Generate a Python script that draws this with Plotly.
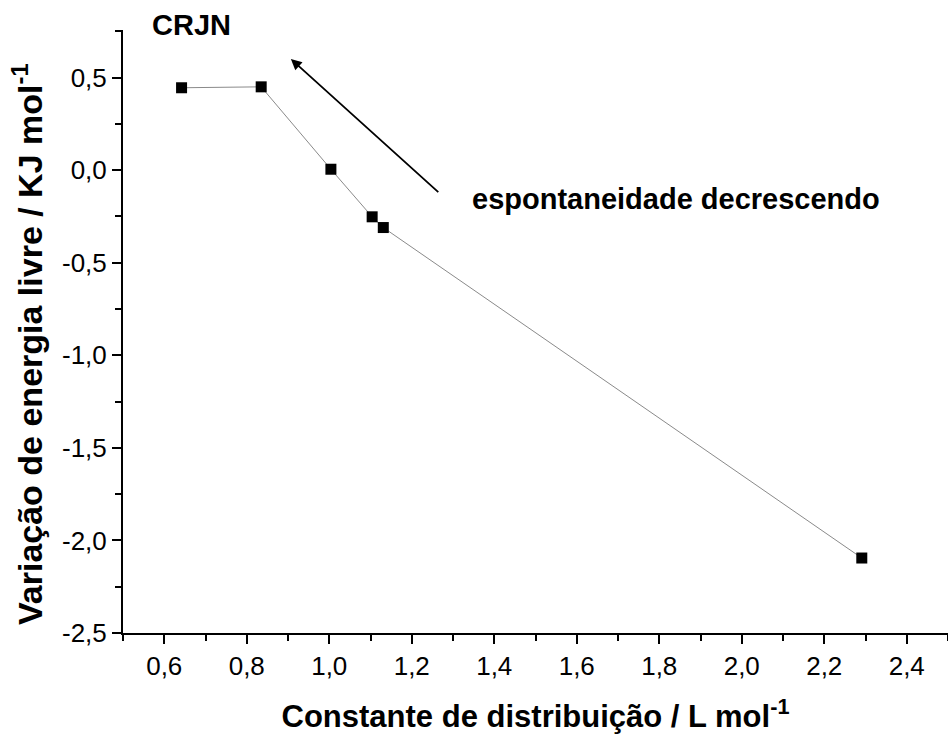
import plotly.graph_objects as go

# Distribution constant (L/mol) and free-energy change (kJ/mol)
k_dist = [0.642, 0.835, 1.004, 1.104, 1.131, 2.291]
delta_g = [0.445, 0.450, 0.005, -0.252, -0.310, -2.095]

# Tick positions and their labels (decimal comma, plain hyphen for negatives)
x_ticks = [0.6, 0.8, 1.0, 1.2, 1.4, 1.6, 1.8, 2.0, 2.2, 2.4]
x_tick_labels = ["0,6", "0,8", "1,0", "1,2", "1,4", "1,6", "1,8", "2,0", "2,2", "2,4"]
y_ticks = [-2.5, -2.0, -1.5, -1.0, -0.5, 0.0, 0.5]
y_tick_labels = ["-2,5", "-2,0", "-1,5", "-1,0", "-0,5", "0,0", "0,5"]

# Arrow (tail -> head) marking the direction of decreasing spontaneity
arrow_tail = (1.268, -0.126)
arrow_head = (0.907, 0.60)

FONT = "Liberation Sans, Arial, sans-serif"

fig = go.Figure()
fig.add_trace(go.Scatter(
    x=k_dist, y=delta_g,
    mode="lines+markers",
    line=dict(color="#8a8a8a", width=1),
    marker=dict(symbol="square", size=11, color="black"),
    showlegend=False,
))

fig.add_annotation(
    x=arrow_head[0], y=arrow_head[1], ax=arrow_tail[0], ay=arrow_tail[1],
    xref="x", yref="y", axref="x", ayref="y",
    showarrow=True, arrowhead=2, arrowsize=1.2, arrowwidth=1.8,
    arrowcolor="black", text="",
)
fig.add_annotation(
    x=1.34, y=-0.155, xref="x", yref="y", xanchor="left", yanchor="middle",
    text="<b>espontaneidade decrescendo</b>", showarrow=False,
    font=dict(family=FONT, size=29, color="black"),
)
fig.add_annotation(
    x=(150 - 123) / 825, y=1 + (30 - 25) / 603, xref="paper", yref="paper",
    xanchor="left", yanchor="middle", showarrow=False,
    text="<b>CRJN</b>", font=dict(family=FONT, size=29, color="black"),
)
# Y-axis label, set slightly below the plot centre
fig.add_annotation(
    x=(27 - 123) / 825, y=(633 - 344) / 603, xref="paper", yref="paper",
    xanchor="center", yanchor="middle", textangle=-90, showarrow=False,
    text="<b>Variação de energia livre / KJ mol<sup>-1</sup></b>",
    font=dict(family=FONT, size=34, color="black"),
)

axis_common = dict(
    showline=True, linecolor="black", linewidth=2,
    ticks="outside", tickcolor="black", tickwidth=2, ticklen=9,
    showgrid=False, zeroline=False, mirror=False,
    tickfont=dict(family=FONT, size=26, color="black"),
)

fig.update_xaxes(
    range=[0.5, 2.5], tickmode="array", tickvals=x_ticks, ticktext=x_tick_labels,
    minor=dict(ticks="outside", ticklen=6, tickwidth=2, tickcolor="black", dtick=0.1, tick0=0.5),
    title=dict(text="<b>Constante de distribuição / L mol<sup>-1</sup></b>",
               font=dict(family=FONT, size=31, color="black"), standoff=25),
    **axis_common,
)
fig.update_yaxes(
    range=[-2.5, 0.757], tickmode="array", tickvals=y_ticks, ticktext=y_tick_labels,
    minor=dict(ticks="outside", ticklen=6, tickwidth=2, tickcolor="black", dtick=0.25, tick0=-2.5),
    **axis_common,
)

fig.update_layout(
    width=948, height=736,
    margin=dict(l=123, r=0, t=30, b=103),
    plot_bgcolor="white", paper_bgcolor="white",
    font=dict(family=FONT, color="black"),
)

fig.write_html("out.html")
